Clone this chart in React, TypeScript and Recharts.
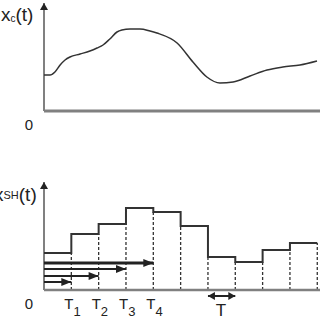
import React from 'react';
import { ComposedChart, Line, XAxis, YAxis, ReferenceLine } from 'recharts';

// continuous signal x_c(t), time in units of T
const curveT = [0, 0.22, 0.4, 0.59, 0.77, 0.95, 1.32, 1.68, 1.94, 2.16, 2.41, 2.67, 2.85, 3.15, 3.51, 3.88, 4.13, 4.87, 5.45, 5.96, 6.44, 6.92, 7.54, 8.16, 8.74, 9.37, 9.99];
const curveV = [36, 36, 39, 46, 51, 54, 57, 60, 63, 66, 72, 79, 81, 82, 82, 80, 78, 68, 49, 34, 28, 29, 35, 41, 44, 46, 50];

// sample-and-hold levels, one per period T
const holdLevels = [37, 56, 66, 82, 78, 64, 33, 28, 40, 47];

// acquisition arrows: height and sample index they reach
const arrowHeights = [8, 14, 21, 27];
const arrowEnds = [1, 2, 3, 4];

const tickValues = [0, 1, 2, 3, 4];
const tickLabels = ['0', 'T', 'T', 'T', 'T'];
const tickSubs = ['', '1', '2', '3', '4'];

const X_DOMAIN: [number, number] = [0, 10.1];
const FONT = '"Liberation Sans", Arial, sans-serif';
const AXIS = '#808080';
const INK = '#222';

const curveData = curveT.map((t, i) => ({ t, v: curveV[i] }));
const stepData = [
  ...holdLevels.map((v, i) => ({ t: i, v })),
  { t: holdLevels.length, v: holdLevels[holdLevels.length - 1] },
];

// arrow shape for ReferenceLine segments
const makeArrow = (both: boolean, len: number, w: number) => (p: any) => {
  const { x1, y1, x2, y2, stroke, strokeWidth } = p;
  if ([x1, y1, x2, y2].some((n) => n == null || isNaN(n))) return <g />;
  const dx = x2 - x1;
  const dy = y2 - y1;
  const d = Math.sqrt(dx * dx + dy * dy) || 1;
  const ux = dx / d;
  const uy = dy / d;
  const head = (tx: number, ty: number, sx: number, sy: number) => {
    const bx = tx - sx * len;
    const by = ty - sy * len;
    return `${tx},${ty} ${bx - sy * w / 2},${by + sx * w / 2} ${bx + sy * w / 2},${by - sx * w / 2}`;
  };
  return (
    <g>
      <line x1={x1} y1={y1} x2={x2} y2={y2} stroke={stroke} strokeWidth={strokeWidth} />
      <polygon points={head(x2, y2, ux, uy)} fill={INK} />
      {both && <polygon points={head(x1, y1, -ux, -uy)} fill={INK} />}
    </g>
  );
};

const AxisTick = (props: any) => {
  const { x, y, payload } = props;
  const i = tickValues.indexOf(payload.value);
  if (i < 0) return <g />;
  if (!tickSubs[i]) {
    return (
      <text x={x - 15} y={y + 17} fontSize={15} fill={INK} fontFamily={FONT} textAnchor="middle">
        {tickLabels[i]}
      </text>
    );
  }
  return (
    <text x={x - 7} y={y + 17} fontSize={15} fill={INK} fontFamily={FONT}>
      {tickLabels[i]}
      <tspan fontSize={13} dy={7}>{tickSubs[i]}</tspan>
    </text>
  );
};

export default function App() {
  return (
    <div style={{ position: 'absolute', left: 0, top: 0, width: 320, height: 320, background: '#fff', fontFamily: FONT }}>
      {/* continuous signal */}
      <div style={{ position: 'absolute', left: 0, top: 0 }}>
        <ComposedChart width={320} height={140} data={curveData} margin={{ top: 11, right: 0, bottom: 0, left: 44 }}>
          <XAxis
            type="number"
            dataKey="t"
            domain={X_DOMAIN}
            ticks={[0]}
            height={29}
            tickSize={0}
            tickLine={false}
            axisLine={{ stroke: AXIS, strokeWidth: 3 }}
            tick={<AxisTick />}
          />
          <YAxis hide type="number" domain={[0, 100]} width={0} />
          <ReferenceLine
            segment={[{ x: 0, y: 0 }, { x: 0, y: 108 }]}
            ifOverflow="visible"
            stroke={AXIS}
            strokeWidth={2}
            shape={makeArrow(false, 7, 8)}
          />
          <Line type="monotone" dataKey="v" stroke="#333" strokeWidth={1.5} dot={false} isAnimationActive={false} />
        </ComposedChart>
      </div>

      {/* sample and hold */}
      <div style={{ position: 'absolute', left: 0, top: 160 }}>
        <ComposedChart width={320} height={160} data={stepData} margin={{ top: 30, right: 0, bottom: 0, left: 44 }}>
          <XAxis
            type="number"
            dataKey="t"
            domain={X_DOMAIN}
            ticks={tickValues}
            height={30}
            tickSize={0}
            tickLine={false}
            axisLine={{ stroke: AXIS, strokeWidth: 2.5 }}
            tick={<AxisTick />}
            interval={0}
          />
          <YAxis hide type="number" domain={[0, 100]} width={0} />
          {holdLevels.map((v, i) => {
            const t = i + 1;
            const next = holdLevels[t] ?? v;
            return (
              <ReferenceLine
                key={`d-${t}`}
                segment={[{ x: t, y: 0 }, { x: t, y: Math.min(v, next) }]}
                ifOverflow="visible"
                stroke="#333"
                strokeWidth={1.3}
                strokeDasharray="3 2"
              />
            );
          })}
          <ReferenceLine
            segment={[{ x: 0, y: 0 }, { x: 0, y: 108 }]}
            ifOverflow="visible"
            stroke={AXIS}
            strokeWidth={2}
            shape={makeArrow(false, 7, 8)}
          />
          {arrowHeights.map((h, i) => (
            <ReferenceLine
              key={`a-${i}`}
              segment={[{ x: 0, y: h }, { x: arrowEnds[i], y: h }]}
              ifOverflow="visible"
              stroke={INK}
              strokeWidth={i === arrowHeights.length - 1 ? 3 : 2}
              shape={makeArrow(false, 10, 8)}
            />
          ))}
          <ReferenceLine
            segment={[{ x: 6, y: -6 }, { x: 7, y: -6 }]}
            ifOverflow="visible"
            stroke={INK}
            strokeWidth={2}
            shape={makeArrow(true, 7, 8)}
          />
          <Line type="stepAfter" dataKey="v" stroke="#333" strokeWidth={2} dot={false} isAnimationActive={false} />
        </ComposedChart>
      </div>

      {/* axis names and period label */}
      <svg width={320} height={320} style={{ position: 'absolute', left: 0, top: 0, pointerEvents: 'none' }}>
        <text x={1} y={21} fontSize={19} fill={INK} fontFamily={FONT}>
          x<tspan fontSize={10} dy={1}>c</tspan>
          <tspan fontSize={19} dy={-1}>(t)</tspan>
        </text>
        <text x={-6} y={201} fontSize={19} fill={INK} fontFamily={FONT}>
          x<tspan fontSize={11} dy={-2}>SH</tspan>
          <tspan fontSize={19} dy={2}>(t)</tspan>
        </text>
        <text x={221} y={316} fontSize={17} fill={INK} fontFamily={FONT} textAnchor="middle">T</text>
      </svg>
    </div>
  );
}
